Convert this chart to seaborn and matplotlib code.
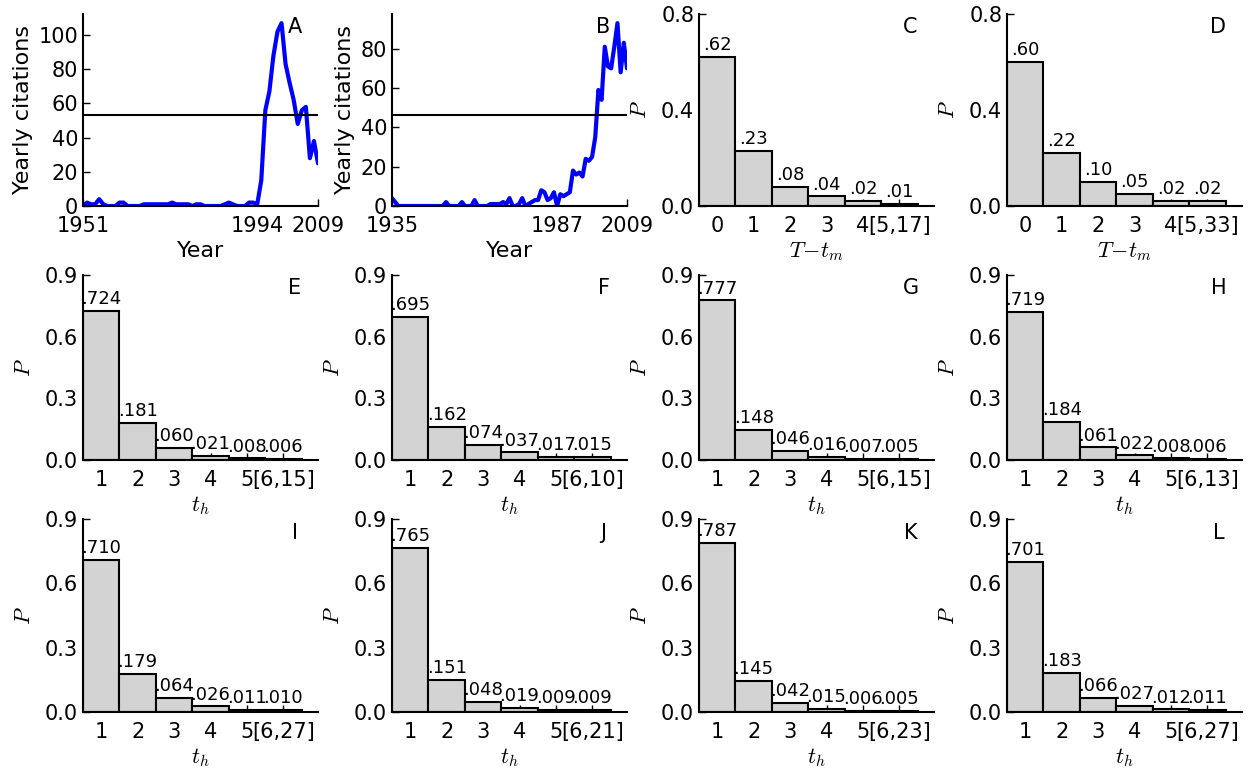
import numpy as np
import pandas as pd
import matplotlib
matplotlib.use("Agg")
import matplotlib.pyplot as plt
import seaborn as sns

sns.set_style("ticks", {"xtick.direction": "in", "ytick.direction": "in"})
plt.rcParams["font.family"] = ["DejaVu Sans"]
plt.rcParams["mathtext.fontset"] = "cm"
for key in ["text.color", "axes.labelcolor", "xtick.color", "ytick.color", "axes.edgecolor"]:
    plt.rcParams[key] = "black"

# panel A/B: yearly citations
years_a = list(range(1951, 2010))
cites_a = [0, 2, 1, 1, 4, 1, 0, 0, 0, 2, 2, 0, 0, 0, 0, 1, 1, 1, 1, 1,
           1, 1, 2, 1, 1, 1, 1, 0, 1, 1, 0, 0, 0, 0, 0, 1, 2, 1, 0, 0,
           0, 2, 2, 1, 15, 56, 67, 88, 102, 107, 83, 72, 62, 48, 56, 58, 28, 38, 25]
mean_a = 53.5
ticks_a = [1951, 1994, 2009]

years_b = list(range(1935, 2010))
cites_b = [4, 2, 0, 0, 0, 0, 0, 0, 0, 0, 0, 0, 0, 0, 0, 0, 0, 2, 0, 0,
           0, 0, 2, 0, 0, 0, 3, 0, 0, 0, 0, 1, 1, 1, 1, 2, 1, 4, 0, 0,
           1, 4, 0, 1, 2, 3, 3, 8, 7, 3, 4, 7, 0, 6, 5, 6, 7, 18, 16, 17,
           15, 24, 23, 25, 35, 59, 54, 81, 71, 70, 81, 93, 68, 83, 70]
mean_b = 46.5
ticks_b = [1935, 1987, 2009]

# panels C-L: distributions
cats_tm_c = ["0", "1", "2", "3", "4", "[5,17]"]
cats_tm_d = ["0", "1", "2", "3", "4", "[5,33]"]
vals_c = [0.62, 0.23, 0.08, 0.04, 0.02, 0.01]
vals_d = [0.60, 0.22, 0.10, 0.05, 0.02, 0.02]

last_th = {"E": "[6,15]", "F": "[6,10]", "G": "[6,15]", "H": "[6,13]",
           "I": "[6,27]", "J": "[6,21]", "K": "[6,23]", "L": "[6,27]"}
vals_e = [0.724, 0.181, 0.060, 0.021, 0.008, 0.006]
vals_f = [0.695, 0.162, 0.074, 0.037, 0.017, 0.015]
vals_g = [0.777, 0.148, 0.046, 0.016, 0.007, 0.005]
vals_h = [0.719, 0.184, 0.061, 0.022, 0.008, 0.006]
vals_i = [0.710, 0.179, 0.064, 0.026, 0.011, 0.010]
vals_j = [0.765, 0.151, 0.048, 0.019, 0.009, 0.009]
vals_k = [0.787, 0.145, 0.042, 0.015, 0.006, 0.005]
vals_l = [0.701, 0.183, 0.066, 0.027, 0.012, 0.011]

W, H = 1249, 769
fig = plt.figure(figsize=(W / 100, H / 100), dpi=100)

lefts = [83, 392, 699, 1007]
rows = [(14, 206), (275, 460), (519, 712)]
aw = 235


def make_ax(col, row):
    top, bot = rows[row]
    return fig.add_axes([lefts[col] / W, 1 - bot / H, aw / W, (bot - top) / H])


def style(ax, letter):
    sns.despine(ax=ax)
    ax.tick_params(labelsize=15, length=5, width=1, direction="in")
    ax.tick_params(axis="x", pad=7)
    for s in ["left", "bottom"]:
        ax.spines[s].set_linewidth(1.5)
    ax.text(0.9, 0.93, letter, transform=ax.transAxes, ha="center", va="center", fontsize=15)


def line_panel(ax, years, cites, mean, ticks, letter):
    df = pd.DataFrame({"year": years, "cites": cites})
    sns.lineplot(data=df, x="year", y="cites", ax=ax, color="#0000ff", linewidth=3)
    ax.axhline(mean, color="black", linewidth=1.5)
    ax.set_xlim(years[0], years[-1])
    ax.set_ylim(0, max(cites) * 1.05)
    ax.set_xticks(ticks)
    ax.set_yticks(np.arange(0, max(cites) * 1.05, 20))
    ax.set_xlabel("Year", fontsize=16, labelpad=4)
    ax.set_ylabel("Yearly citations", fontsize=16, labelpad=4)
    style(ax, letter)


def bar_panel(ax, cats, vals, letter, xlabel, ymax, yticks, fmt):
    df = pd.DataFrame({"cat": cats, "p": vals})
    sns.barplot(data=df, x="cat", y="p", ax=ax, color="#d3d3d3", saturation=1,
                edgecolor="black", linewidth=1.5, width=1)
    labels = [(fmt % v)[1:] for v in vals]
    ax.bar_label(ax.containers[0], labels=labels, padding=2, fontsize=13)
    ax.set_xlim(-0.5, 5.95)
    ax.set_ylim(0, ymax)
    ax.set_yticks(yticks)
    ax.set_xlabel(xlabel, fontsize=16, labelpad=3)
    ax.set_ylabel("$P$", fontsize=16, labelpad=8)
    style(ax, letter)


line_panel(make_ax(0, 0), years_a, cites_a, mean_a, ticks_a, "A")
line_panel(make_ax(1, 0), years_b, cites_b, mean_b, ticks_b, "B")

tm_label = r"$T\!-\!t_m$"
bar_panel(make_ax(2, 0), cats_tm_c, vals_c, "C", tm_label, 0.8, [0, 0.4, 0.8], "%.2f")
bar_panel(make_ax(3, 0), cats_tm_d, vals_d, "D", tm_label, 0.8, [0, 0.4, 0.8], "%.2f")

th_panels = [("E", vals_e), ("F", vals_f), ("G", vals_g), ("H", vals_h),
             ("I", vals_i), ("J", vals_j), ("K", vals_k), ("L", vals_l)]
for k, (letter, vals) in enumerate(th_panels):
    cats = ["1", "2", "3", "4", "5", last_th[letter]]
    ax = make_ax(k % 4, 1 + k // 4)
    bar_panel(ax, cats, vals, letter, "$t_h$", 0.9, [0, 0.3, 0.6, 0.9], "%.3f")

fig.savefig("out.png", dpi=100)
